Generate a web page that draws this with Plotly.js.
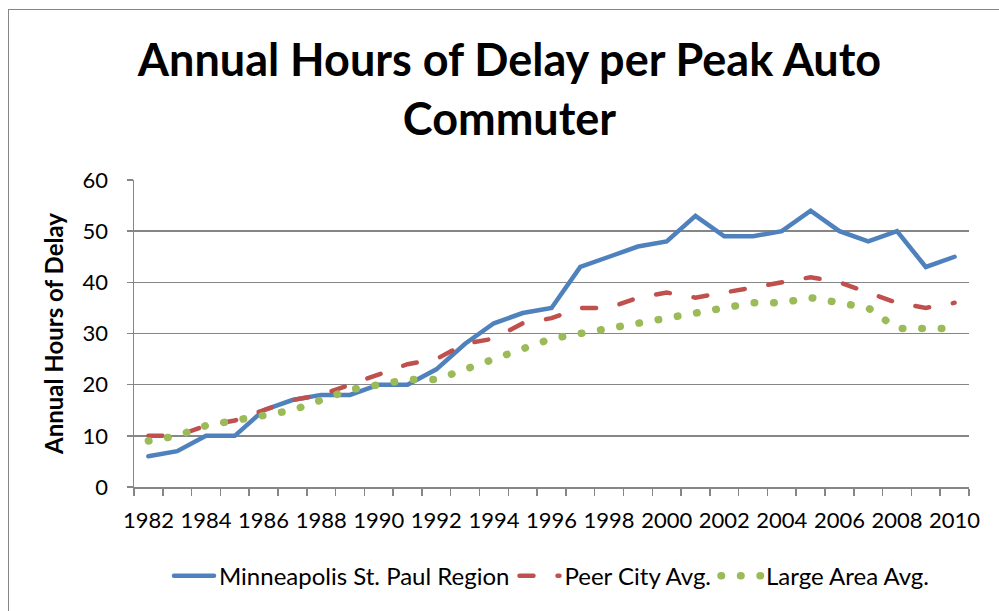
<!DOCTYPE html>
<html>
<head>
<meta charset="utf-8">
<script src="https://cdn.plot.ly/plotly-3.0.1.min.js"></script>
<style>
  html, body { margin: 0; padding: 0; background: #fff; }
  #wrap { position: relative; width: 999px; height: 611px; }
  #frame { position: absolute; left: 8px; top: 9px; width: 1000px; height: 700px;
           border-left: 1px solid #868686; border-top: 1px solid #868686; pointer-events: none; }
  #chart { width: 999px; height: 611px; }
  .scatterlayer .js-line, .legend .js-line { stroke-linecap: round; }
</style>
</head>
<body>
<div id="wrap">
  <div id="chart"></div>
  <div id="frame"></div>
</div>
<script>
const years = [1982,1983,1984,1985,1986,1987,1988,1989,1990,1991,1992,1993,1994,1995,1996,
               1997,1998,1999,2000,2001,2002,2003,2004,2005,2006,2007,2008,2009,2010];
const minneapolis = [6,7,10,10,15,17,18,18,20,20,23,28,32,34,35,43,45,47,48,53,49,49,50,54,50,48,50,43,45];
const peerCity = [10,10,12,13,15,17,18,20,22,24,25,28,29,32,33,35,35,37,38,37,38,39,40,41,40,38,36,35,36];
const largeArea = [9,10,12,13,14,15,17,19,20,21,21,23,25,27,29,30,31,32,33,34,35,36,36,37,36,35,31,31,31];
const seriesNames = ["Minneapolis St. Paul Region", "Peer City Avg.", "Large Area Avg."];
const titleText = "Annual Hours of Delay per Peak Auto<br>Commuter";
const yTitle = "Annual Hours of Delay";

const FONT = "Lato, 'Open Sans', sans-serif";
const GRID = "#868686";

const traces = [
  { x: years, y: minneapolis, name: seriesNames[0], type: "scatter", mode: "lines",
    line: { color: "#4F81BD", width: 4.5 } },
  { x: years, y: peerCity, name: seriesNames[1], type: "scatter", mode: "lines",
    line: { color: "#C0504D", width: 4.5, dash: "14px,24px" } },
  { x: years, y: largeArea, name: seriesNames[2], type: "scatter", mode: "lines",
    line: { color: "#9BBB59", width: 7.5, dash: "0.5px,19px" } }
];

const layout = {
  width: 999, height: 611,
  paper_bgcolor: "#fff", plot_bgcolor: "#fff",
  margin: { l: 134, r: 30, t: 180, b: 124 },
  font: { family: FONT, color: "#000", size: 22 },
  title: { text: titleText, font: { family: FONT, size: 45, weight: "bold", color: "#000" },
           x: 0.51, xanchor: "center", y: 0.875, yanchor: "top", yref: "container" },
  showlegend: true,
  legend: { orientation: "h", x: 0.5, xanchor: "center", y: -0.29, yanchor: "middle",
            font: { family: FONT, size: 24 }, itemwidth: 40, traceorder: "normal" },
  xaxis: {
    type: "linear", range: [1981.5, 2010.5],
    tick0: 1982, dtick: 2, ticks: "", showgrid: false, zeroline: false,
    showline: true, linecolor: GRID, linewidth: 1.5, tickangle: 0,
    tickfont: { family: FONT, size: 22 }, ticklabelstandoff: 13,
    minor: { tick0: 1981.5, dtick: 1, ticks: "outside", ticklen: 7, tickcolor: GRID, tickwidth: 1.5, showgrid: false }
  },
  yaxis: {
    range: [0, 60], dtick: 10, tick0: 0,
    ticks: "outside", ticklen: 6, tickcolor: GRID, tickwidth: 1.5,
    showgrid: true, gridcolor: GRID, gridwidth: 1.5, zeroline: false,
    showline: true, linecolor: GRID, linewidth: 1.5,
    tickfont: { family: FONT, size: 22 }, ticklabelstandoff: 14,
    title: { text: yTitle, font: { family: FONT, size: 24, weight: "bold" }, standoff: 12 }
  }
};

Plotly.newPlot("chart", traces, layout, { displayModeBar: false, staticPlot: true });
</script>
</body>
</html>
